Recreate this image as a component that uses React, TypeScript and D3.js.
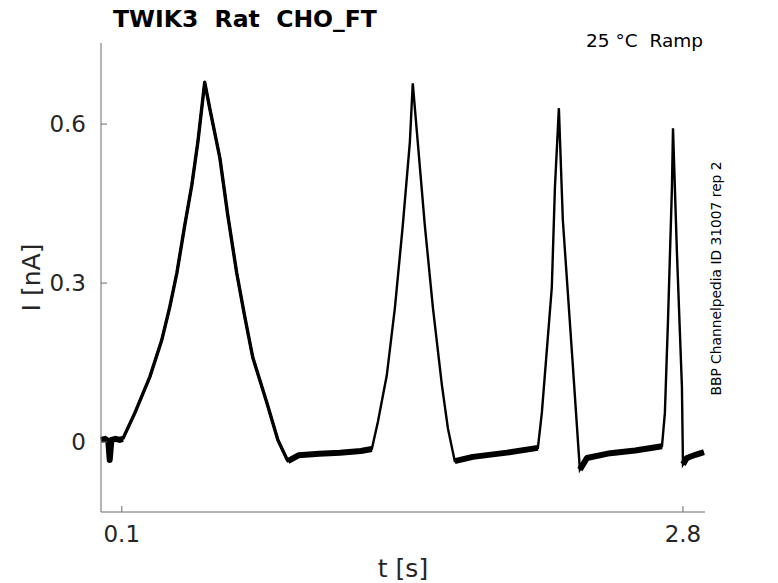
import { useRef, useEffect } from "react";
import * as d3 from "d3";

// Trace (time in s, current in nA)
const timeS = [
  0.0, 0.02, 0.035, 0.042, 0.05, 0.07, 0.09, 0.105,
  0.163, 0.235, 0.292, 0.331, 0.365, 0.403, 0.437, 0.466, 0.499,
  0.523, 0.572, 0.61, 0.653, 0.692, 0.73, 0.798, 0.851, 0.899,
  0.95, 1.05, 1.15, 1.25, 1.303,
  1.332, 1.375, 1.414, 1.452, 1.486, 1.5,
  1.524, 1.558, 1.597, 1.64, 1.669, 1.702,
  1.789, 1.953, 2.102,
  2.121, 2.169, 2.184, 2.203,
  2.222, 2.266, 2.304,
  2.338, 2.45, 2.57, 2.699,
  2.713, 2.728, 2.747, 2.752,
  2.771, 2.795, 2.8,
  2.819, 2.86, 2.901,
];
const currentNA = [
  0.004, 0.006, 0.002, -0.034, 0.004, 0.006, 0.004, 0.006,
  0.055, 0.123, 0.192, 0.255, 0.319, 0.409, 0.485, 0.566, 0.679,
  0.63, 0.536, 0.428, 0.319, 0.236, 0.16, 0.074, 0.004, -0.036,
  -0.025, -0.022, -0.02, -0.017, -0.013,
  0.038, 0.126, 0.253, 0.409, 0.566, 0.677,
  0.566, 0.409, 0.253, 0.108, 0.026, -0.036,
  -0.028, -0.02, -0.011,
  0.055, 0.292, 0.481, 0.63,
  0.419, 0.168, -0.052,
  -0.03, -0.021, -0.016, -0.008,
  0.055, 0.23, 0.481, 0.592,
  0.357, 0.104, -0.042,
  -0.03, -0.024, -0.019,
];

// Stretches where overlaid sweeps make the trace a noisy band
const noisyStart = [0.0, 0.899, 1.702, 2.304, 2.8];
const noisyEnd = [0.105, 1.303, 2.102, 2.699, 2.906];
// First ramp, where the sweeps spread a little
const spreadStart = 0.105;
const spreadEnd = 0.899;

const xTicks = [0.1, 2.8];
const yTicks = [0, 0.3, 0.6];

const W = 778;
const H = 583;
const margin = { left: 101, right: 73, top: 43, bottom: 71 };
const FONT = "'DejaVu Sans', sans-serif";

type Pt = { t: number; i: number };

export default function App() {
  const ref = useRef<SVGSVGElement>(null);

  useEffect(() => {
    if (!ref.current) return;
    const svg = d3.select(ref.current);
    svg.selectAll("*").remove();

    const x = d3
      .scaleLinear()
      .domain([0, 2.906])
      .range([margin.left, W - margin.right]);
    const y = d3
      .scaleLinear()
      .domain([-0.132, 0.753])
      .range([H - margin.bottom, margin.top]);

    const data: Pt[] = timeS.map((t, k) => ({ t, i: currentNA[k] }));

    const line = d3
      .line<Pt>()
      .x((d) => x(d.t))
      .y((d) => y(d.i));

    const drawSeg = (s: number, e: number, w: number) => {
      const seg = data.filter((d) => d.t >= s && d.t <= e);
      svg
        .append("path")
        .datum(seg)
        .attr("fill", "none")
        .attr("stroke", "#000")
        .attr("stroke-width", w)
        .attr("stroke-linejoin", "round")
        .attr("d", line);
    };

    // Noisy baseline bands drawn thicker
    noisyStart.forEach((s, k) => drawSeg(s, noisyEnd[k], 6));
    drawSeg(spreadStart, spreadEnd, 3.4);

    // Main trace
    svg
      .append("path")
      .datum(data)
      .attr("fill", "none")
      .attr("stroke", "#000")
      .attr("stroke-width", 2.4)
      .attr("stroke-linejoin", "miter")
      .attr("d", line);

    // Axes (left + bottom only, ticks pointing inward)
    const axisColor = "#6b6b6b";
    const labelColor = "#262626";
    const x0 = margin.left;
    const y0 = H - margin.bottom;

    svg
      .append("line")
      .attr("x1", x0)
      .attr("x2", x0)
      .attr("y1", margin.top)
      .attr("y2", y0)
      .attr("stroke", axisColor);
    svg
      .append("line")
      .attr("x1", x0)
      .attr("x2", W - margin.right)
      .attr("y1", y0)
      .attr("y2", y0)
      .attr("stroke", axisColor);

    xTicks.forEach((t) => {
      svg
        .append("line")
        .attr("x1", x(t))
        .attr("x2", x(t))
        .attr("y1", y0)
        .attr("y2", y0 - 6)
        .attr("stroke", axisColor);
      svg
        .append("text")
        .attr("x", x(t))
        .attr("y", y0 + 30)
        .attr("text-anchor", "middle")
        .attr("font-family", FONT)
        .attr("font-size", 23)
        .attr("fill", labelColor)
        .text(String(t));
    });

    yTicks.forEach((v) => {
      svg
        .append("line")
        .attr("x1", x0)
        .attr("x2", x0 + 6)
        .attr("y1", y(v))
        .attr("y2", y(v))
        .attr("stroke", axisColor);
      svg
        .append("text")
        .attr("x", x0 - 15)
        .attr("y", y(v))
        .attr("dy", "0.36em")
        .attr("text-anchor", "end")
        .attr("font-family", FONT)
        .attr("font-size", 23)
        .attr("fill", labelColor)
        .text(v === 0 ? "0" : String(v));
    });

    // Axis labels
    svg
      .append("text")
      .attr("x", (x0 + W - margin.right) / 2)
      .attr("y", 577)
      .attr("text-anchor", "middle")
      .attr("font-family", FONT)
      .attr("font-size", 25)
      .attr("fill", labelColor)
      .text("t [s]");
    svg
      .append("text")
      .attr("transform", `translate(40, ${(margin.top + y0) / 2}) rotate(-90)`)
      .attr("text-anchor", "middle")
      .attr("font-family", FONT)
      .attr("font-size", 25)
      .attr("fill", labelColor)
      .text("I [nA]");

    // Title and annotations
    svg
      .append("text")
      .attr("x", 113)
      .attr("y", 27)
      .attr("font-family", FONT)
      .attr("font-weight", "bold")
      .attr("font-size", 23.5)
      .attr("fill", "#000")
      .style("white-space", "pre")
      .text("TWIK3  Rat  CHO_FT");
    svg
      .append("text")
      .attr("x", 703)
      .attr("y", 47)
      .attr("text-anchor", "end")
      .attr("font-family", FONT)
      .attr("font-size", 18.5)
      .attr("fill", "#000")
      .style("white-space", "pre")
      .text("25 °C  Ramp");
    svg
      .append("text")
      .attr("transform", `translate(721, ${(margin.top + y0) / 2 + 1}) rotate(-90)`)
      .attr("text-anchor", "middle")
      .attr("font-family", FONT)
      .attr("font-size", 13.8)
      .attr("fill", "#000")
      .text("BBP Channelpedia ID 31007 rep 2");
  }, []);

  return (
    <svg
      ref={ref}
      width={W}
      height={H}
      style={{ position: "absolute", left: 0, top: 0, background: "#fff" }}
    />
  );
}
